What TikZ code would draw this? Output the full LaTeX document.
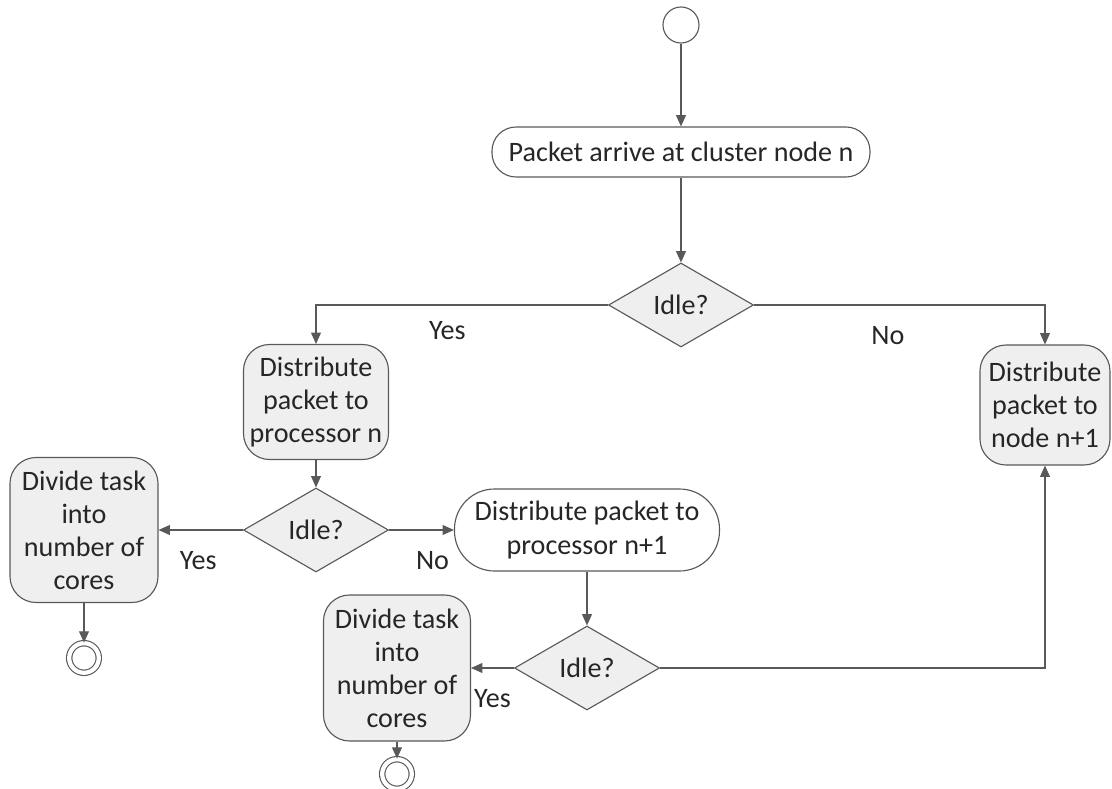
\documentclass[tikz,border=0pt]{standalone}
\usepackage{fontspec}
\setmainfont{Carlito}
\usepackage{tikz}
\usetikzlibrary{arrows.meta,automata,shapes.geometric,positioning}
\definecolor{linegray}{HTML}{595959}
\definecolor{shadegray}{HTML}{EFEFEF}
\definecolor{textgray}{HTML}{262626}

\begin{document}
\begin{tikzpicture}[->,>={Triangle[length=8pt,width=7pt]},thick,on grid,
                    color=linegray,text=textgray,
                    font=\fontsize{20pt}{23.5pt}\selectfont]
  \tikzstyle{every state}=[draw=linegray,fill=white,minimum size=0.9cm,inner sep=0pt]
  \tikzstyle{final}=[double,double distance=3pt,minimum size=0.74cm]
  \tikzstyle{terminal}=[rectangle,draw=linegray,fill=white,inner sep=0pt,align=center]
  \tikzstyle{activity}=[rectangle,rounded corners=0.65cm,draw=linegray,fill=shadegray,
                        minimum width=3.625cm,minimum height=2.875cm,inner sep=0pt,align=center]
  \tikzstyle{decision}=[diamond,aspect=1.7,draw=linegray,fill=shadegray,
                        minimum width=3.625cm,minimum height=2.1cm,inner sep=0pt]
  \tikzstyle{answer}=[inner sep=0pt,below=15pt]

  \useasboundingbox (-17.025,0.625) rectangle (10.775,-19.1);

  \node[state]          (start)                                        {};
  \node[terminal,rounded corners=0.6cm,minimum width=9.45cm,minimum height=1.25cm]
                        (arrive)  [below=3.175cm of start]             {Packet arrive at cluster node n};
  \node[decision]       (idleA)   [below=3.825cm of arrive]            {Idle?};
  \node[activity]       (toproc)  [below left=2.425cm and 9.125cm of idleA]
                                                                       {Distribute\\packet to\\processor n};
  \node[activity,minimum width=3.25cm,minimum height=3cm]
                        (tonode)  [below right=2.5cm and 9.1cm of idleA]
                                                                       {Distribute\\packet to\\node n+1};
  \node[decision]       (idleB)   [below=3.2cm of toproc]              {Idle?};
  \node[activity,minimum width=3.7cm,minimum height=3.625cm]
                        (divA)    [left=5.8cm of idleB]                {Divide task\\into\\number of\\cores};
  \node[state,final]    (endA)    [below=3.2cm of divA]                {};
  \node[terminal,rounded corners=1cm,minimum width=6.625cm,minimum height=2.05cm]
                        (toprocB) [right=6.775cm of idleB]             {Distribute packet to\\processor n+1};
  \node[decision]       (idleC)   [below=3.45cm of toprocB]            {Idle?};
  \node[activity,minimum width=3.675cm,minimum height=3.65cm]
                        (divB)    [left=4.75cm of idleC]               {Divide task\\into\\number of\\cores};
  \node[state,final]    (endB)    [below=2.65cm of divB]               {};

  \draw (start) -- (arrive);
  \draw (arrive) -- (idleA);
  \draw (idleA) -| node[answer,pos=0.275,below=11pt] {Yes} (toproc);
  \draw (idleA) -| node[answer,pos=0.23] {No} (tonode);
  \draw (toproc) -- (idleB);
  \draw (idleB) -- node[answer,pos=0.53] {Yes} (divA);
  \draw (idleB) -- node[answer,pos=0.67] {No} (toprocB);
  \draw (divA) -- (endA);
  \draw (toprocB) -- (idleC);
  \draw (idleC) -- node[answer,pos=0.5] {Yes} (divB);
  \draw (idleC) -| (tonode);
  \draw (divB) -- (endB);
\end{tikzpicture}
\end{document}
